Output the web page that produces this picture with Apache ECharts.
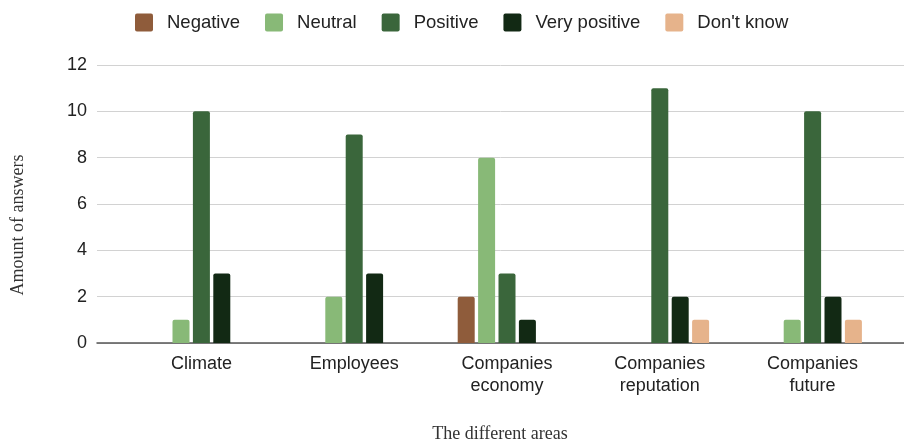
<!DOCTYPE html>
<html>
<head>
<meta charset="utf-8">
<script src="https://cdn.jsdelivr.net/npm/echarts@6/dist/echarts.min.js"></script>
<style>
  html, body { margin: 0; padding: 0; background: #fff; }
  #chart { width: 904px; height: 443px; }
</style>
</head>
<body>
<div id="chart"></div>
<script>
// Survey answers per area
const categories = ['Climate', 'Employees', 'Companies\neconomy', 'Companies\nreputation', 'Companies\nfuture'];
const negative     = [null, null, 2, null, null];
const neutral      = [1, 2, 8, null, 1];
const positive     = [10, 9, 3, 11, 10];
const veryPositive = [3, 3, 1, 2, 2];
const dontKnow     = [null, null, null, 1, 1];
const yTicks = { min: 0, max: 12, step: 2 };

const seriesDefs = [
  { name: 'Negative', data: negative, color: '#8f5c3b' },
  { name: 'Neutral', data: neutral, color: '#88b977' },
  { name: 'Positive', data: positive, color: '#3a663b' },
  { name: 'Very positive', data: veryPositive, color: '#122914' },
  { name: "Don't know", data: dontKnow, color: '#e6b38b' }
];

const chart = echarts.init(document.getElementById('chart'));
const font = 'Liberation Sans, Arial, sans-serif';
const serif = 'Liberation Serif, Times New Roman, serif';

// square legend marker with slightly rounded corners
const squareIcon = 'path://M2,0 L16,0 Q18,0 18,2 L18,16 Q18,18 16,18 L2,18 Q0,18 0,16 L0,2 Q0,0 2,0 Z';

chart.setOption({
  animation: false,
  legend: {
    top: 8,
    left: 130,
    itemWidth: 18,
    itemHeight: 18,
    itemGap: 25,
    icon: squareIcon,
    textStyle: { fontFamily: font, fontSize: 18.5, color: '#222', padding: [0, 0, 0, 9] },
    data: seriesDefs.map(s => s.name)
  },
  grid: [
    // background grid with gridlines and baseline across the full width
    { left: 97, right: 0, top: 65, bottom: 100 },
    // grid holding the category bars
    { left: 125, right: 15, top: 65, bottom: 100 }
  ],
  xAxis: [
    {
      gridIndex: 0, type: 'value', min: 0, max: 1,
      axisLine: { show: true, lineStyle: { color: '#555', width: 1.5 } },
      axisTick: { show: false }, axisLabel: { show: false }, splitLine: { show: false }
    },
    {
      gridIndex: 1, type: 'category', data: categories,
      axisLine: { show: false }, axisTick: { show: false },
      axisLabel: { fontFamily: font, fontSize: 18, color: '#222', margin: 10, lineHeight: 22 }
    }
  ],
  yAxis: [
    {
      gridIndex: 0, type: 'value', min: yTicks.min, max: yTicks.max, interval: yTicks.step,
      axisLine: { show: false }, axisTick: { show: false },
      axisLabel: { fontFamily: font, fontSize: 18, color: '#222', margin: 10 },
      splitLine: { lineStyle: { color: '#d2d2d2', width: 1 } }
    },
    {
      gridIndex: 1, type: 'value', min: yTicks.min, max: yTicks.max, interval: yTicks.step,
      show: false, splitLine: { show: false }
    }
  ],
  graphic: [
    {
      type: 'text', x: 18, y: 225, rotation: Math.PI / 2,
      style: { text: 'Amount of answers', font: '18px ' + serif, fill: '#333', textAlign: 'center', textVerticalAlign: 'middle' }
    },
    {
      type: 'text', x: 500, y: 434,
      style: { text: 'The different areas', font: '18px ' + serif, fill: '#333', textAlign: 'center', textVerticalAlign: 'middle' }
    }
  ],
  series: seriesDefs.map(s => ({
    name: s.name,
    type: 'bar',
    xAxisIndex: 1,
    yAxisIndex: 1,
    data: s.data,
    barWidth: 17,
    barGap: '20%',
    itemStyle: { color: s.color, borderRadius: [2, 2, 0, 0] }
  }))
});
</script>
</body>
</html>
